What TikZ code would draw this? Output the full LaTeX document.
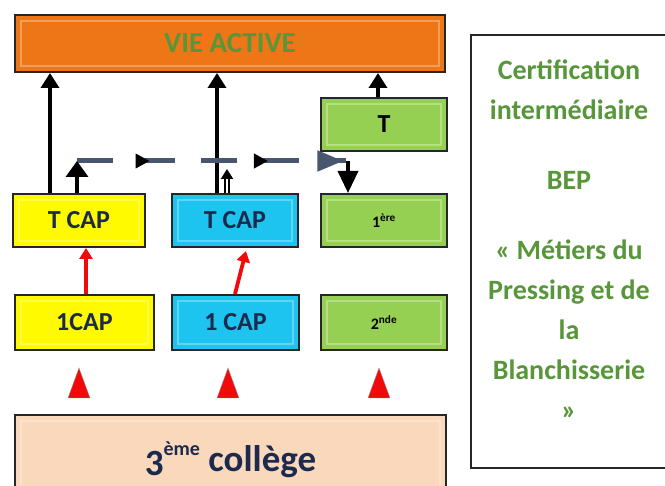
\documentclass[tikz,border=0pt]{standalone}
\usepackage{fontspec}
\setmainfont{Carlito}
\usetikzlibrary{arrows.meta,decorations.markings}
\definecolor{orangebox}{RGB}{238,118,22}
\definecolor{yellowbox}{RGB}{255,250,0}
\definecolor{cyanbox}{RGB}{30,196,240}
\definecolor{greenbox}{RGB}{150,208,82}
\definecolor{peachbox}{RGB}{250,216,188}
\definecolor{navytext}{RGB}{28,42,78}
\definecolor{greentext}{RGB}{88,150,58}
\definecolor{dashcol}{RGB}{72,86,110}
\definecolor{redarrow}{RGB}{240,10,10}
\begin{document}
\begin{tikzpicture}[x=1pt,y=-1pt,
  box/.style={rectangle,draw=black!85,line width=2pt,inner sep=0pt,
    font=\bfseries\fontsize{26}{30}\selectfont,text=navytext,
    path picture={\draw[white,opacity=.3,line width=1.2pt]
      ([shift={(6pt,-6pt)}]path picture bounding box.north west) rectangle
      ([shift={(-6pt,6pt)}]path picture bounding box.south east);}},
  blackarrow/.style={draw=black,line width=3.5pt,-{Triangle[width=18pt,length=15pt]}},
  thinblack/.style={draw=black,line width=2.2pt,-{Triangle[width=12pt,length=11pt]}},
  redarr/.style={draw=redarrow,line width=3.8pt,-{Triangle[width=13pt,length=11pt]}},
  redtri/.style={fill=redarrow,draw=black!40,line width=0.4pt}
]
\useasboundingbox (0,0) rectangle (665,486);

% boxes
\node[box,fill=orangebox,minimum width=430pt,minimum height=57pt,text=greentext,
  font=\bfseries\fontsize{29}{32}\selectfont] (vie) at (230,43.5) {VIE ACTIVE};
\node[box,fill=greenbox,minimum width=126pt,minimum height=53pt,text=black] (term) at (384,124.5) {T};
\node[box,fill=yellowbox,minimum width=132pt,minimum height=53pt] (tcapa) at (79,220.5) {\raisebox{-3pt}{T CAP}};
\node[box,fill=cyanbox,minimum width=126pt,minimum height=53pt] (tcapb) at (235,220.5) {\raisebox{-3pt}{T CAP}};
\node[box,fill=greenbox,minimum width=126pt,minimum height=53pt,text=black,
  font=\bfseries\fontsize{16}{18}\selectfont] (prem) at (384,220.5) {1\textsuperscript{ère}};
\node[box,fill=yellowbox,minimum width=139pt,minimum height=55pt] (capa) at (84.5,322.5) {1CAP};
\node[box,fill=cyanbox,minimum width=127pt,minimum height=55pt] (capb) at (235.5,322.5) {1 CAP};
\node[box,fill=greenbox,minimum width=126pt,minimum height=55pt,text=black,
  font=\bfseries\fontsize{16}{18}\selectfont] (sec) at (384,322.5) {2\textsuperscript{nde}};
\node[box,fill=peachbox,minimum width=431pt,minimum height=90pt,
  font=\bfseries\fontsize{37}{40}\selectfont,anchor=north] (college) at (230.5,414)
  {\raisebox{-4pt}{3}\raisebox{16pt}{\fontsize{20}{22}\selectfont ème} collège};
\node[rectangle,draw=black!85,line width=2pt,fill=white,minimum width=215pt,minimum height=433pt,
  anchor=north west] (cert) at (470,34) {};
\node[text=greentext,font=\bfseries\fontsize{28}{40}\selectfont,align=center,inner sep=0pt]
  (certtext) at (569,240) {Certification\\intermédiaire\\[30pt]BEP\\[30pt]« Métiers du\\Pressing et de\\la\\Blanchisserie\\»};

% x positions
\coordinate (xa) at (50,0);
\coordinate (xb) at (217,0);
\coordinate (xc) at (378,0);
\coordinate (xd) at (77,0);
\coordinate (xe) at (227,0);
\coordinate (xf) at (348,0);
\coordinate (ya) at (0,161);
\coordinate (d0) at (77,161);
\coordinate (d1) at (346,161);

% black arrows to VIE ACTIVE
\draw[blackarrow] (tcapa.north -| xa) -- (vie.south -| xa);
\draw[blackarrow] (tcapb.north -| xb) -- (vie.south -| xb);
\draw[blackarrow] (term.north -| xc) -- (vie.south -| xc);

% dashed path
\draw[dashcol,line width=5pt,dash pattern=on 36pt off 26pt,
  postaction={decorate},
  decoration={markings,
    mark=at position 0.27 with {\arrow[black]{Triangle[width=14pt,length=14pt]}},
    mark=at position 0.71 with {\arrow[black]{Triangle[width=14pt,length=14pt]}},
    mark=at position 0.99 with {\arrow[dashcol]{Triangle[width=20pt,length=26pt]}}}]
  (d0) -- (d1);
\draw[thinblack,line width=3.5pt,-{Triangle[width=22pt,length=16pt]}] (tcapa.north -| xd) -- (ya -| xd);
\draw[thinblack,double,double distance=1.5pt,line width=2pt,-{Triangle[width=12pt,length=10pt]}] (tcapb.north -| xe) -- ([yshift=-8pt]ya -| xe);
\draw[blackarrow,-{Triangle[width=20pt,length=22pt]}] (ya -| xf) -- (prem.north -| xf);

% red arrows
\coordinate (ra) at (86,0);
\draw[redarr] (capa.north -| ra) -- (tcapa.south -| ra);
\coordinate (rb0) at (235,0);
\coordinate (rb1) at (246,0);
\draw[redarr] (capb.north -| rb0) -- ([yshift=-3pt]tcapb.south -| rb1);

% red triangles
\foreach \cx in {79,228,379}{
  \filldraw[redtri] (\cx-11,398) -- (\cx,368) -- (\cx+11,398) -- cycle;
}
\end{tikzpicture}
\end{document}
